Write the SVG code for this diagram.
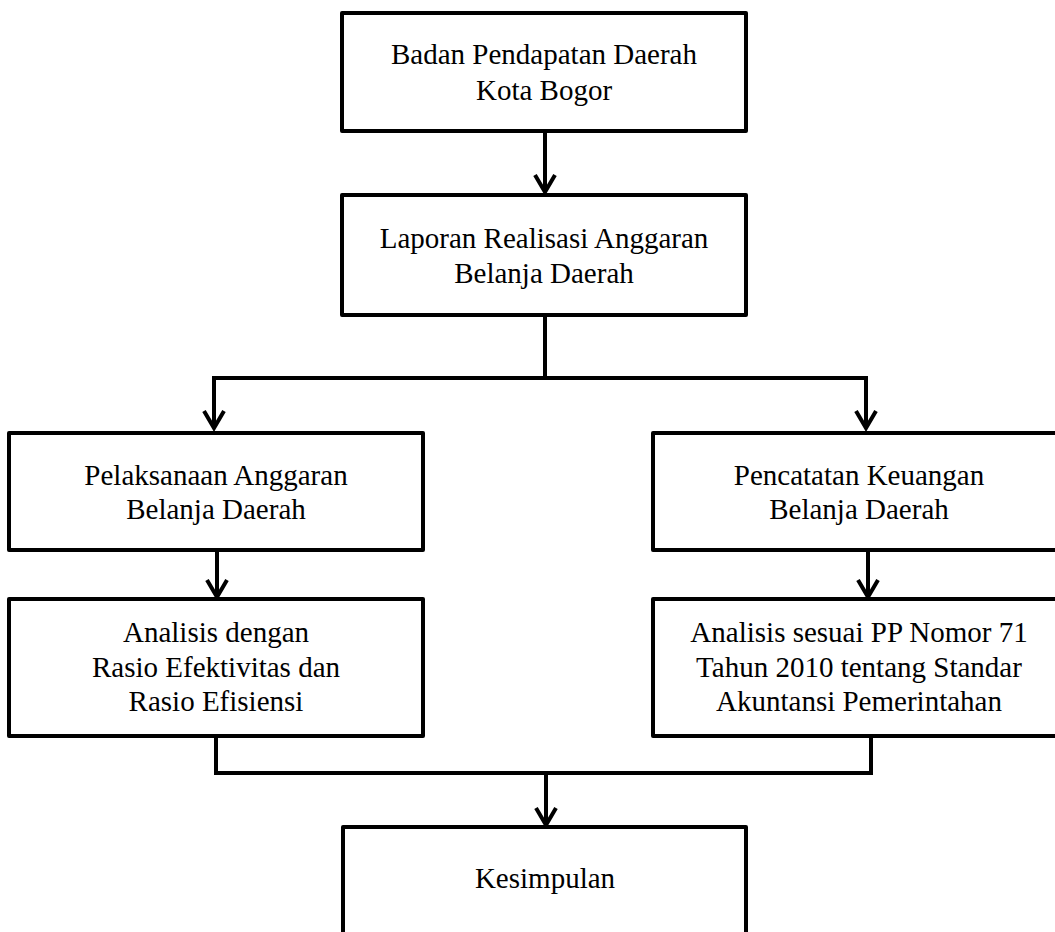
<svg xmlns="http://www.w3.org/2000/svg" width="1055" height="932" viewBox="0 0 1055 932">
<style>
.box{fill:#fff;stroke:#000;stroke-width:4;stroke-linejoin:round}
.line{fill:none;stroke:#000;stroke-width:4}
text{font-family:"Liberation Serif","Times New Roman",serif;font-size:29px;fill:#000;text-anchor:middle}
</style>
<defs>
<marker id="ah" markerUnits="userSpaceOnUse" markerWidth="26" markerHeight="30" viewBox="-21 -15 26 30" refX="0" refY="0" orient="auto" overflow="visible">
<path d="M-17,-10 L0,0 L-17,10" fill="none" stroke="#000" stroke-width="4" stroke-linejoin="miter"/>
</marker>
</defs>
<rect width="1055" height="932" fill="#fff"/>
<g id="connectors">
<path class="line" d="M545,131 V192" marker-end="url(#ah)"/>
<path class="line" d="M545,315 V378"/>
<path class="line" d="M545,378 H214 V428" marker-end="url(#ah)"/>
<path class="line" d="M545,378 H866 V428" marker-end="url(#ah)"/>
<path class="line" d="M217,550 V597" marker-end="url(#ah)"/>
<path class="line" d="M868,550 V597" marker-end="url(#ah)"/>
<path class="line" d="M216,736 V773 H871 V736"/>
<path class="line" d="M546,773 V825" marker-end="url(#ah)"/>
</g>
<g id="n1">
<rect class="box" x="342" y="13" width="404" height="118"/>
<text x="544" y="64">Badan Pendapatan Daerah</text>
<text x="544" y="100">Kota Bogor</text>
</g>
<g id="n2">
<rect class="box" x="342" y="195" width="404" height="120"/>
<text x="544" y="248">Laporan Realisasi Anggaran</text>
<text x="544" y="283">Belanja Daerah</text>
</g>
<g id="n3">
<rect class="box" x="9" y="433" width="414" height="117"/>
<text x="216" y="485">Pelaksanaan Anggaran</text>
<text x="216" y="519">Belanja Daerah</text>
</g>
<g id="n4">
<rect class="box" x="653" y="433" width="412" height="117"/>
<text x="859" y="485">Pencatatan Keuangan</text>
<text x="859" y="519">Belanja Daerah</text>
</g>
<g id="n5">
<rect class="box" x="9" y="599" width="414" height="137"/>
<text x="216" y="642">Analisis dengan</text>
<text x="216" y="677">Rasio Efektivitas dan</text>
<text x="216" y="711">Rasio Efisiensi</text>
</g>
<g id="n6">
<rect class="box" x="653" y="599" width="412" height="137"/>
<text x="859" y="642">Analisis sesuai PP Nomor 71</text>
<text x="859" y="677">Tahun 2010 tentang Standar</text>
<text x="859" y="711">Akuntansi Pemerintahan</text>
</g>
<g id="n7">
<rect class="box" x="343" y="827" width="403" height="115"/>
<text x="545" y="888">Kesimpulan</text>
</g>
</svg>
